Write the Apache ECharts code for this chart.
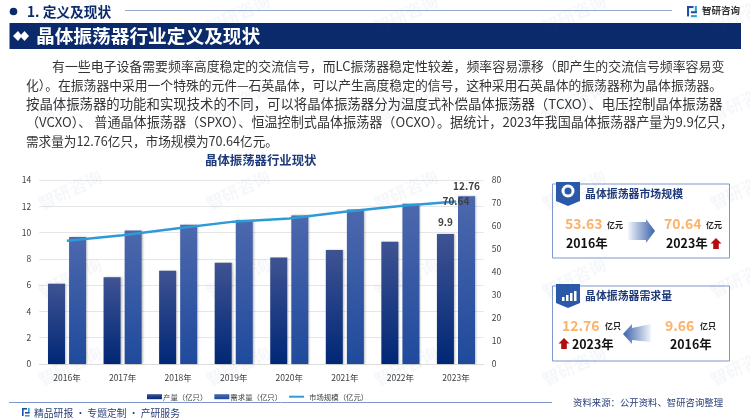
<!DOCTYPE html>
<html>
<head>
<meta charset="utf-8">
<title>晶体振荡器行业定义及现状</title>
<script src="https://cdn.jsdelivr.net/npm/echarts@6/dist/echarts.min.js"></script>
<style>
  html, body { margin: 0; padding: 0; background: #fff; }
  #main { width: 750px; height: 420px; }
</style>
</head>
<body>
<div id="main"></div>
<script>
const years = ["2016年", "2017年", "2018年", "2019年", "2020年", "2021年", "2022年", "2023年"];
const output = [6.1, 6.6, 7.1, 7.7, 8.1, 8.67, 9.3, 9.9];
const demand = [9.66, 10.15, 10.6, 10.95, 11.3, 11.75, 12.2, 12.76];
const marketSize = [53.63, 56, 59, 61.9, 63.3, 66.2, 68.7, 70.64];
const paragraph = [
  "有一些电子设备需要频率高度稳定的交流信号，而LC振荡器稳定性较差，频率容易漂移（即产生的交流信号频率容易变",
  "化）。在振荡器中采用一个特殊的元件—石英晶体，可以产生高度稳定的信号，这种采用石英晶体的振荡器称为晶体振荡器。",
  "按晶体振荡器的功能和实现技术的不同，可以将晶体振荡器分为温度式补偿晶体振荡器（TCXO）、电压控制晶体振荡器",
  "（VCXO）、 普通晶体振荡器（SPXO）、恒温控制式晶体振荡器（OCXO）。据统计，2023年我国晶体振荡器产量为9.9亿只，",
  "需求量为12.76亿只，市场规模为70.64亿元。"
];

const FONT = '"Noto Sans CJK SC", "Noto Sans", sans-serif';
const NAVY = "#0b2a6b";

function txt(x, y, text, size, color, bold, align) {
  return {
    type: "text", x: x, y: y, z: 10,
    style: {
      text: text, fill: color, font: (bold ? "bold " : "") + size + "px " + FONT,
      textAlign: align || "left", textVerticalAlign: "middle"
    }
  };
}
function poly(points, fill, z) {
  return { type: "polygon", z: z || 5, shape: { points: points }, style: { fill: fill } };
}
function rect(x, y, w, h, style, z) {
  return { type: "rect", z: z || 4, shape: { x: x, y: y, width: w, height: h }, style: style };
}
function grad(x0, x1, y0, y1, c0, c1) {
  return new echarts.graphic.LinearGradient(x0, y0, x1, y1, [{ offset: 0, color: c0 }, { offset: 1, color: c1 }]);
}
// small version of the company mark
function logo(x, y, s) {
  return [
    rect(x, y, 5 * s, 1.6 * s, { fill: "#1f4fa8" }, 6),
    rect(x, y, 1.6 * s, 8 * s, { fill: "#1f4fa8" }, 6),
    rect(x + 6 * s, y, 1.6 * s, 5 * s, { fill: "#2aa0dc" }, 6),
    rect(x + 3 * s, y + 4 * s, 4.6 * s, 1.6 * s, { fill: "#1f4fa8" }, 6),
    rect(x + 3 * s, y + 7 * s, 4.6 * s, 1.6 * s, { fill: "#2aa0dc" }, 6)
  ];
}
function upArrow(cx, top) {
  return poly([[cx, top], [cx + 5.5, top + 5.5], [cx + 2.8, top + 5.5], [cx + 2.8, top + 11], [cx - 2.8, top + 11], [cx - 2.8, top + 5.5], [cx - 5.5, top + 5.5]], "#b30d0d");
}
function panel(top, height, title, titleW) {
  return [
    rect(552.5, top, 177, height, { fill: "#fff", stroke: "#7e97cd", lineWidth: 1 }, 3),
    poly([[556, top - 2], [580, top - 2], [580, top + 17], [568, top + 22], [556, top + 17]], "#2b58a8"),
    txt(585, top + 10, title, titleW, "#1f3a7a", true)
  ];
}

const watermark = [];
for (let row = 0; row < 5; row++) {
  for (let col = 0; col < 5; col++) {
    watermark.push({
      type: "text", z: 30, silent: true,
      x: 70 + col * 168, y: 14 + row * 88, rotation: 0.44,
      style: {
        text: "智研咨询", fill: "rgba(60,90,150,0.05)",
        font: "bold 17px " + FONT, textAlign: "center", textVerticalAlign: "middle"
      }
    });
  }
}

const page = [
  // top strip
  { type: "circle", z: 5, shape: { cx: 13.5, cy: 11.5, r: 3.8 }, style: { fill: NAVY } },
  txt(27, 11.5, "1. 定义及现状", 13.7, NAVY, true),
  { type: "line", z: 4, shape: { x1: 125, y1: 10.5, x2: 672, y2: 10.5 }, style: { stroke: "#9aa9d2", lineWidth: 1 } },
  ...logo(687, 6, 1.3),
  txt(702, 10, "智研咨询", 9.5, "#333", true),
  // banner
  rect(9.5, 23, 731.5, 26, { fill: NAVY }),
  poly([[13, 36], [18, 31], [22, 36], [18, 41]], "#fff"),
  poly([[20, 36], [24.5, 31], [29, 36], [24.5, 41]], "#fff"),
  txt(36, 36, "晶体振荡器行业定义及现状", 18.7, "#fff", true),
  // body text
  txt(52, 66, paragraph[0], 12.9, "#333"),
  txt(26, 85, paragraph[1], 12.8, "#333"),
  txt(26, 104, paragraph[2], 13.4, "#333"),
  txt(26, 122, paragraph[3], 13.1, "#333"),
  txt(26, 141, paragraph[4], 12.6, "#333"),
  // market size panel
  ...panel(184, 74, "晶体振荡器市场规模", 10.9),
  { type: "circle", z: 6, shape: { cx: 568, cy: 191, r: 6.5 }, style: { fill: "#fff" } },
  { type: "circle", z: 7, shape: { cx: 568, cy: 191, r: 3.5 }, style: { fill: "#2b58a8" } },
  txt(565, 224, "53.63", 14, "#fbb36b", true),
  txt(607, 225, "亿元", 8, "#222", true),
  txt(566, 243, "2016年", 12.4, "#111", true),
  poly([[628, 222], [646, 222], [646, 219], [655, 231], [646, 243], [646, 240], [628, 240]], grad(0, 1, 0, 0, "rgba(43,88,168,0.05)", "#3d63aa")),
  txt(664, 224, "70.64", 14, "#fbb36b", true),
  txt(706, 225, "亿元", 8, "#222", true),
  txt(666, 243, "2023年", 12.4, "#111", true),
  upArrow(716, 238),
  // demand panel
  ...panel(286, 75, "晶体振荡器需求量", 10.9),
  rect(562, 297, 2.5, 4, { fill: "#fff" }, 7),
  rect(566, 295, 2.5, 6, { fill: "#fff" }, 7),
  rect(570, 293, 2.5, 8, { fill: "#fff" }, 7),
  rect(574, 291, 2.5, 10, { fill: "#fff" }, 7),
  txt(562, 326, "12.76", 14, "#fbb36b", true),
  txt(605, 326, "亿只", 8, "#222", true),
  upArrow(564, 338),
  txt(572, 344, "2023年", 12.4, "#111", true),
  poly([[651, 324], [632, 328], [632, 324], [623, 334], [632, 344], [632, 340], [651, 342]], grad(0, 1, 0, 0, "#3d63aa", "rgba(43,88,168,0.05)")),
  txt(665, 326, "9.66", 14, "#fbb36b", true),
  txt(700, 326, "亿只", 8, "#222", true),
  txt(670, 344, "2016年", 12.4, "#111", true),
  // footer
  { type: "line", z: 4, shape: { x1: 9, y1: 402.5, x2: 552, y2: 402.5 }, style: { stroke: "#7e97cd", lineWidth: 1 } },
  txt(573, 402, "资料来源：公开资料、智研咨询整理", 9.4, "#2a3f78"),
  ...logo(22, 408, 1),
  txt(34, 413, "精品研报 · 专题定制 · 产研服务", 9.8, "#2a3f78"),
  ...watermark
];

const axisText = { color: "#404040", fontSize: 8.5, fontFamily: FONT };
const valueLabel = { show: true, color: "#404040", fontSize: 10, fontWeight: "bold", fontFamily: FONT };

const chart = echarts.init(document.getElementById("main"), null, { renderer: "canvas" });
chart.setOption({
  animation: false,
  backgroundColor: "#fff",
  title: {
    text: "晶体振荡器行业现状", left: 200, top: 149,
    textStyle: { color: "#1f3a7a", fontSize: 12.4, fontWeight: "bold", fontFamily: FONT }
  },
  legend: {
    left: 142, top: 388, itemWidth: 15, itemHeight: 5, itemGap: 7,
    textStyle: { color: "#404040", fontSize: 7.4, fontFamily: FONT, padding: [0, 0, 0, -4] },
    data: [
      { name: "产量（亿只）", icon: "rect", textStyle: { padding: [0, 13, 0, -4] } },
      { name: "需求量（亿只）", icon: "rect" },
      { name: "市场规模（亿元）", icon: "path://M0 0L0 0M0 1.5H15V3.5H0ZM0 5L0 5", textStyle: { padding: [0, 0, 0, 0] } }
    ]
  },
  grid: { left: 39.25, right: 266.25, top: 180, bottom: 56 },
  xAxis: {
    type: "category", data: years,
    axisTick: { show: false },
    axisLine: { lineStyle: { color: "#ddd" } },
    axisLabel: { ...axisText, margin: 10 }
  },
  yAxis: [
    {
      type: "value", min: 0, max: 14, interval: 2,
      axisLine: { show: false }, axisTick: { show: false },
      splitLine: { lineStyle: { color: "#e6e6e6" } },
      axisLabel: { ...axisText, margin: 8 }
    },
    {
      type: "value", min: 0, max: 80, interval: 10,
      axisLine: { show: false }, axisTick: { show: false },
      splitLine: { show: false },
      axisLabel: { ...axisText, margin: 8 }
    }
  ],
  series: [
    {
      name: "产量（亿只）", type: "bar", barWidth: 17, barGap: "24%",
      itemStyle: {
        color: grad(0, 0, 0, 1, "#3f5392", "#002776"),
        shadowColor: "rgba(0,0,0,0.25)", shadowBlur: 2, shadowOffsetX: 1
      },
      data: output.map(function (v, i) {
        return i === output.length - 1
          ? { value: v, label: { ...valueLabel, position: "top", distance: 7 } }
          : v;
      })
    },
    {
      name: "需求量（亿只）", type: "bar", barWidth: 17,
      itemStyle: {
        color: grad(0, 0, 0, 1, "#4d68ad", "#1f4a9c"),
        shadowColor: "rgba(0,0,0,0.25)", shadowBlur: 2, shadowOffsetX: 1
      },
      data: demand.map(function (v, i) {
        return i === demand.length - 1
          ? { value: v, label: { ...valueLabel, position: "top", distance: 5 } }
          : v;
      })
    },
    {
      name: "市场规模（亿元）", type: "line", yAxisIndex: 1,
      symbol: "circle", symbolSize: 1, showSymbol: true, showAllSymbol: true, z: 5,
      lineStyle: { color: "#2e9bd6", width: 2.5 },
      itemStyle: { color: "#2e9bd6" },
      data: marketSize.map(function (v, i) {
        return i === marketSize.length - 1
          ? { value: v, label: { ...valueLabel, position: "inside" } }
          : v;
      })
    }
  ],
  graphic: { elements: page }
});
</script>
</body>
</html>
